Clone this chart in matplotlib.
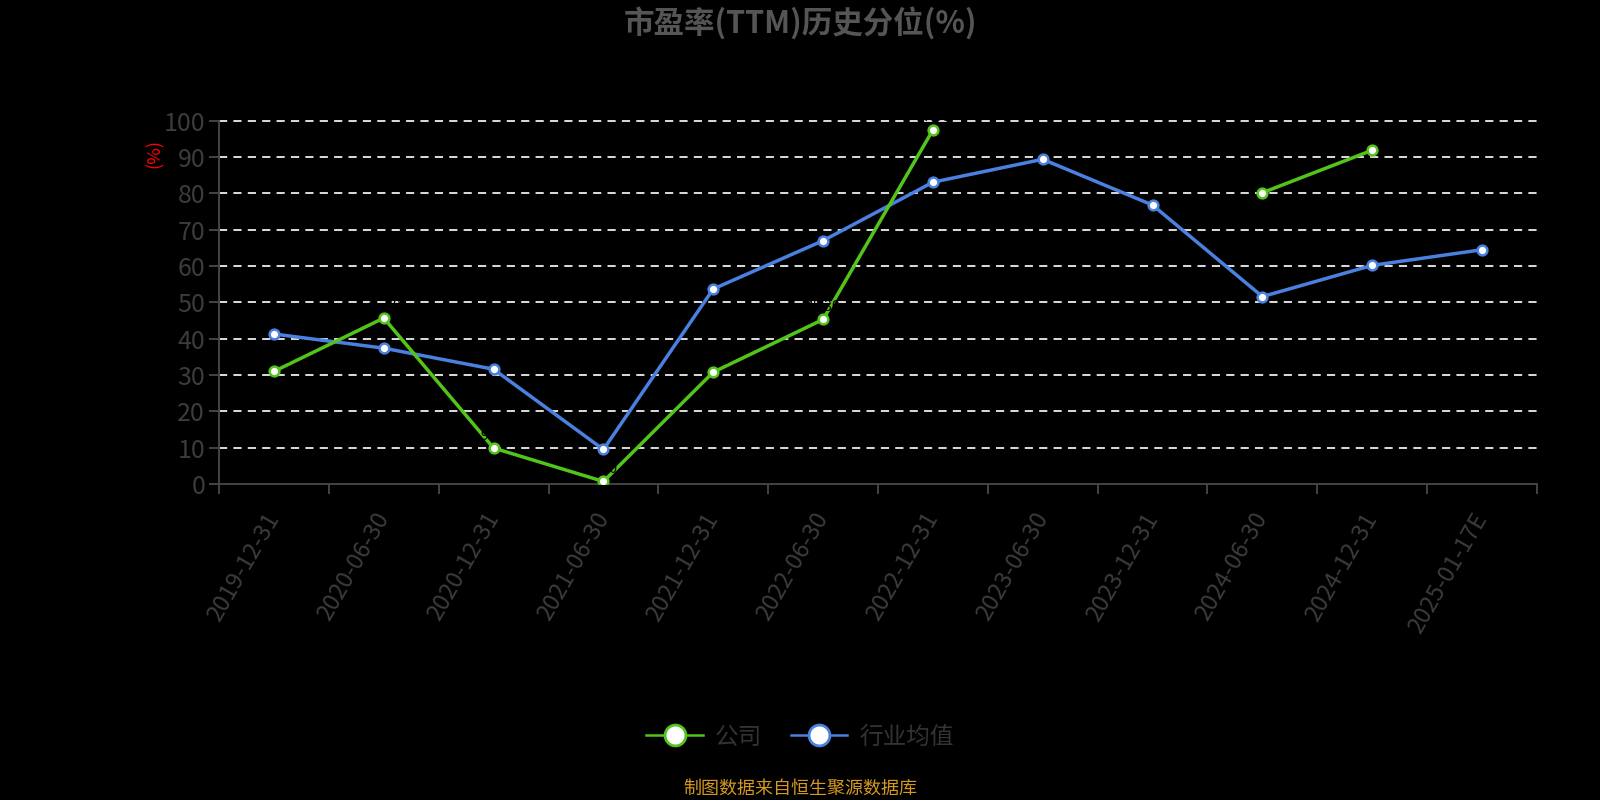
import numpy as np
import matplotlib
matplotlib.use("Agg")
import matplotlib.pyplot as plt
from matplotlib.lines import Line2D

plt.rcParams['font.family'] = ['Noto Sans CJK SC', 'DejaVu Sans']

# data
dates = ["2019-12-31", "2020-06-30", "2020-12-31", "2021-06-30", "2021-12-31",
         "2022-06-30", "2022-12-31", "2023-06-30", "2023-12-31", "2024-06-30",
         "2024-12-31", "2025-01-17E"]
company = [31.0, 45.7, 9.9, 0.7, 30.8, 45.3, 97.5, None, None, 80.2, 91.9, None]
industry = [41.3, 37.4, 31.6, 9.5, 53.7, 67.0, 83.1, 89.4, 76.8, 51.6, 60.2, 64.5]

green = "#52c41a"
blue = "#4a80e0"
grey_text = "#3c3c3c"

fig = plt.figure(figsize=(16, 8), dpi=100, facecolor="black")
ax = fig.add_axes([0.1369, 0.395, 0.8237, 0.454])
ax.set_facecolor("black")

x = np.arange(len(dates))
comp = np.array([np.nan if v is None else v for v in company])

# grid
ax.set_ylim(0, 100)
ax.set_xlim(-0.5, len(dates) - 0.5)
ax.set_yticks(range(0, 101, 10))
for yv in range(10, 101, 10):
    ax.axhline(yv, color="#dddddd", lw=1.4, linestyle=(0, (4.2, 3.2)),
               zorder=1, clip_on=False)

ax.plot(x, comp, color=green, lw=2.5, marker="o", markersize=7,
        markerfacecolor="white", markeredgecolor=green, markeredgewidth=1.8, zorder=4)
ax.plot(x, industry, color=blue, lw=2.5, marker="o", markersize=7,
        markerfacecolor="white", markeredgecolor=blue, markeredgewidth=1.8, zorder=3)

# data labels on company points (black on black in the original)
for xi, v in zip(x, company):
    if v is not None:
        ax.text(xi, v + 1.5, f"{v:.2f}", color="black", fontsize=10,
                ha="center", va="bottom", zorder=5)

# axes styling
for s in ["top", "right"]:
    ax.spines[s].set_visible(False)
ax.spines["left"].set_color("#444444")
ax.spines["bottom"].set_color("#444444")
ax.spines["left"].set_linewidth(1.4)
ax.spines["bottom"].set_linewidth(1.4)
ax.tick_params(axis="y", colors="#444444", labelcolor=grey_text, labelsize=18,
               length=7, width=1.4, pad=3)
ax.set_xticks(np.arange(len(dates) + 1) - 0.5)
ax.set_xticklabels([])
ax.tick_params(axis="x", colors="#444444", length=7, width=1.4)
ax.set_xticks(x, minor=True)
ax.set_xticklabels(dates, minor=True, rotation=60, ha="right", va="center",
                   rotation_mode="anchor", color=grey_text, fontsize=17)
ax.tick_params(axis="x", which="minor", length=0, pad=22)

# y axis unit
fig.text(155 / 1600, 1 - 153 / 800, "(%)", color="red", fontsize=13,
         rotation=90, ha="center", va="center")

# title
fig.text(0.5, 1 - 23 / 800, "市盈率(TTM)历史分位(%)", color="#555555",
         fontsize=22, fontweight="bold", ha="center", va="center")

# legend
handles = [
    Line2D([0], [0], color=green, lw=1.8, marker="o", markersize=15,
           markerfacecolor="white", markeredgecolor=green, markeredgewidth=2),
    Line2D([0], [0], color=blue, lw=1.8, marker="o", markersize=15,
           markerfacecolor="white", markeredgecolor=blue, markeredgewidth=2),
]
leg = fig.legend(handles, ["公司", "行业均值"], loc="center",
                 bbox_to_anchor=(0.5, 1 - 737 / 800), ncol=2, frameon=False,
                 fontsize=17, handlelength=2.4, columnspacing=1.2,
                 handletextpad=0.5, labelcolor="#333333")

# source note
fig.text(0.5, 1 - 789 / 800, "制图数据来自恒生聚源数据库", color="#d4991e",
         fontsize=13, ha="center", va="center")

fig.savefig("out.png", dpi=100, facecolor="black")
